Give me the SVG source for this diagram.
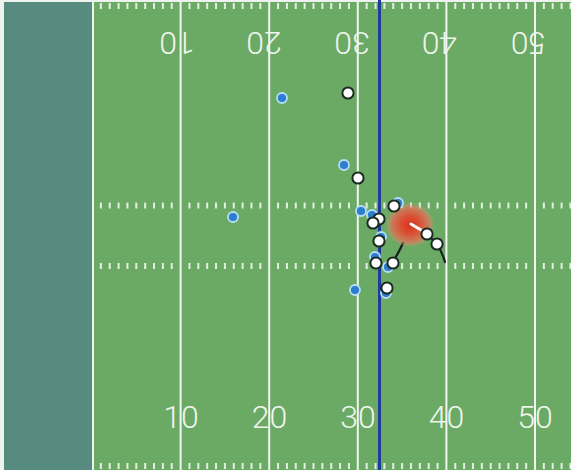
<svg xmlns="http://www.w3.org/2000/svg" width="571" height="470" viewBox="0 0 571 470">
  <defs>
    <radialGradient id="ballGlow" cx="50%" cy="50%" r="50%">
      <stop offset="0%" stop-color="#d9321c" stop-opacity="1"/>
      <stop offset="40%" stop-color="#e04a30" stop-opacity="0.95"/>
      <stop offset="75%" stop-color="#e96a52" stop-opacity="0.75"/>
      <stop offset="92%" stop-color="#ef8570" stop-opacity="0.35"/>
      <stop offset="100%" stop-color="#f09080" stop-opacity="0"/>
    </radialGradient>
    <path id="hashes" d="M100.86 0v6M109.72 0v6M118.58 0v6M127.44 0v6M136.3 0v6M145.16 0v6M154.02 0v6M162.88 0v6M171.74 0v6M189.46 0v6M198.32 0v6M207.18 0v6M216.04 0v6M224.9 0v6M233.76 0v6M242.62 0v6M251.48 0v6M260.34 0v6M278.06 0v6M286.92 0v6M295.78 0v6M304.64 0v6M313.5 0v6M322.36 0v6M331.22 0v6M340.08 0v6M348.94 0v6M366.66 0v6M375.52 0v6M384.38 0v6M393.24 0v6M402.1 0v6M410.96 0v6M419.82 0v6M428.68 0v6M437.54 0v6M455.26 0v6M464.12 0v6M472.98 0v6M481.84 0v6M490.7 0v6M499.56 0v6M508.42 0v6M517.28 0v6M526.14 0v6M543.86 0v6M552.72 0v6M561.58 0v6M570.44 0v6"/>
  </defs>
  <style>
    .hash { stroke: #f2f6f0; stroke-width: 2; fill: none; opacity: 0.9; }
    .yard { stroke: #f2f6f0; stroke-width: 2; fill: none; }
    .num { font-family: Roboto, "Liberation Sans", sans-serif; font-weight: 300; font-size: 32px; fill: #f0f4ee; text-anchor: middle; }
    .off { fill: #ffffff; stroke: #1b2a22; stroke-width: 2; }
    .def { fill: #2c7cd0; stroke: #b5def5; stroke-width: 1.8; }
    .trail { fill: none; stroke: #16201a; stroke-width: 2.2; stroke-linecap: round; }
  </style>

  <g id="field">
    <rect x="0" y="0" width="571" height="470" fill="#eef2ee"/>
    <rect x="4" y="2" width="88" height="468" fill="#588b7f"/>
    <rect x="92" y="2" width="479" height="468" fill="#6aaa64"/>
    <line class="yard" x1="93" y1="2" x2="93" y2="470"/>
    <line class="yard" x1="180.6" y1="2" x2="180.6" y2="470"/>
    <line class="yard" x1="269.2" y1="2" x2="269.2" y2="470"/>
    <line class="yard" x1="357.8" y1="2" x2="357.8" y2="470"/>
    <line class="yard" x1="446.4" y1="2" x2="446.4" y2="470"/>
    <line class="yard" x1="535" y1="2" x2="535" y2="470"/>
    <use href="#hashes" class="hash" y="3"/>
    <use href="#hashes" class="hash" y="202.5"/>
    <use href="#hashes" class="hash" y="263"/>
    <use href="#hashes" class="hash" y="463"/>
    <g id="numbers-bottom">
      <text class="num" x="181" y="428">10</text>
      <text class="num" x="269.5" y="428">20</text>
      <text class="num" x="358" y="428">30</text>
      <text class="num" x="446.5" y="428">40</text>
      <text class="num" x="535" y="428">50</text>
    </g>
    <g id="numbers-top">
      <text class="num" x="177" y="55" transform="rotate(180 177 43.5)">10</text>
      <text class="num" x="264" y="55" transform="rotate(180 264 43.5)">20</text>
      <text class="num" x="352" y="55" transform="rotate(180 352 43.5)">30</text>
      <text class="num" x="439.5" y="55" transform="rotate(180 439.5 43.5)">40</text>
      <text class="num" x="528.5" y="55" transform="rotate(180 528.5 43.5)">50</text>
    </g>
    <line id="scrimmage" x1="379.5" y1="0" x2="379.5" y2="470" stroke="#1d3a9c" stroke-width="3"/>
  </g>

  <g id="connectors">
    <path class="trail" d="M403 243 Q399 252 394 260"/>
    <path class="trail" d="M427 234 L437 244"/>
    <path class="trail" d="M437 244 Q442 252 445 262"/>
  </g>

  <g id="ball">
    <ellipse cx="410" cy="225" rx="24" ry="22" fill="url(#ballGlow)"/>
    <line x1="411" y1="224" x2="421" y2="230" stroke="#ffffff" stroke-width="3" stroke-linecap="round"/>
  </g>

  <g id="defense">
    <circle id="d1" class="def" cx="282" cy="98" r="5"/>
    <circle id="d2" class="def" cx="233" cy="217" r="5"/>
    <circle id="d3" class="def" cx="344" cy="165" r="5"/>
    <circle id="d4" class="def" cx="361" cy="211" r="5"/>
    <circle id="d5" class="def" cx="372" cy="215" r="5"/>
    <circle id="d6" class="def" cx="398" cy="203" r="5"/>
    <circle id="d7" class="def" cx="381" cy="237" r="5"/>
    <circle id="d8" class="def" cx="375" cy="257" r="5"/>
    <circle id="d9" class="def" cx="388" cy="267" r="5"/>
    <circle id="d10" class="def" cx="355" cy="290" r="5"/>
    <circle id="d11" class="def" cx="386" cy="293" r="5"/>
  </g>

  <g id="offense">
    <circle id="o1" class="off" cx="348" cy="93" r="5.6"/>
    <circle id="o2" class="off" cx="358" cy="178" r="5.6"/>
    <circle id="o3" class="off" cx="394" cy="206" r="5.6"/>
    <circle id="o4" class="off" cx="379" cy="219" r="5.6"/>
    <circle id="o5" class="off" cx="373" cy="223" r="5.6"/>
    <circle id="o6" class="off" cx="379" cy="241" r="5.6"/>
    <circle id="o7" class="off" cx="376" cy="263" r="5.6"/>
    <circle id="o8" class="off" cx="393" cy="263" r="5.6"/>
    <circle id="o9" class="off" cx="427" cy="234" r="5.6"/>
    <circle id="o10" class="off" cx="437" cy="244" r="5.6"/>
    <circle id="o11" class="off" cx="387" cy="288" r="5.6"/>
  </g>
</svg>
